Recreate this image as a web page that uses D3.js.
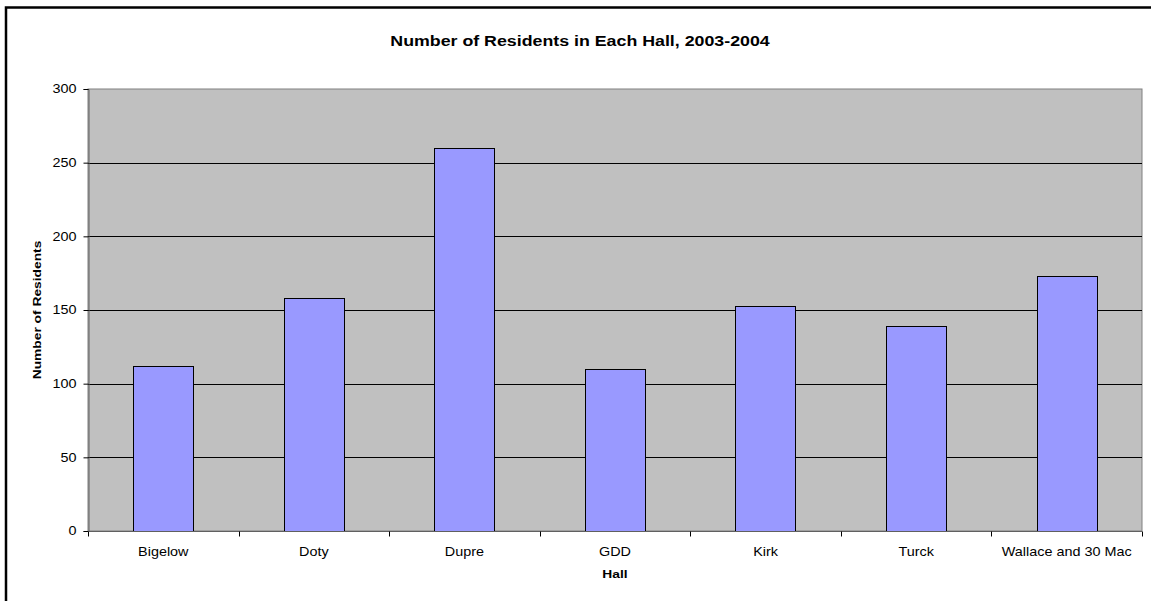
<!DOCTYPE html>
<html>
<head>
<meta charset="utf-8">
<script src="https://cdn.jsdelivr.net/npm/d3@7"></script>
<style>
  body { margin: 0; background: #fff; }
  svg { display: block; font-family: "Liberation Sans", Arial, sans-serif; }
</style>
</head>
<body>
<div id="container"></div>
<script>
// data
const halls = ["Bigelow", "Doty", "Dupre", "GDD", "Kirk", "Turck", "Wallace and 30 Mac"]
const residents = [112, 158, 260, 110, 153, 139, 173]
const yTicks = [0, 50, 100, 150, 200, 250, 300]

const width = 1151
const height = 601
const margin = { top: 89, right: 9, bottom: 70, left: 88 }
// the reference text is drawn wider than plain Arial
const stretch = 1.2

const svg = d3.select("#container")
    .append("svg")
    .attr("width", width)
    .attr("height", height)

// outer chart border (cropped at right and bottom)
svg.append("rect")
    .attr("x", 6)
    .attr("y", 7.5)
    .attr("width", width + 10)
    .attr("height", height + 10)
    .attr("fill", "none")
    .attr("stroke", "#000")
    .attr("stroke-width", 2.5)

const x = d3.scaleBand()
    .domain(halls)
    .range([margin.left, width - margin.right])
    .paddingInner(0.6)
    .paddingOuter(0.3)

const xBand = d3.scaleBand()
    .domain(halls)
    .range([margin.left, width - margin.right])

const y = d3.scaleLinear()
    .domain([0, 300])
    .range([height - margin.bottom, margin.top])

const plotW = width - margin.right - margin.left
const plotH = height - margin.bottom - margin.top

// plot area
svg.append("rect")
    .attr("x", margin.left)
    .attr("y", margin.top)
    .attr("width", plotW)
    .attr("height", plotH)
    .attr("fill", "#c0c0c0")
    .attr("stroke", "#808080")
    .attr("stroke-width", 1)

// gridlines
svg.append("g")
    .selectAll("line")
    .data(yTicks.filter((d) => d > 0 && d < 300))
    .join("line")
    .attr("x1", margin.left)
    .attr("x2", width - margin.right)
    .attr("y1", (d) => Math.round(y(d)) + 0.5)
    .attr("y2", (d) => Math.round(y(d)) + 0.5)
    .attr("stroke", "#000")
    .attr("stroke-width", 1)

// bars
svg.append("g")
    .selectAll("rect")
    .data(residents)
    .join("rect")
    .attr("x", (d, i) => Math.round(x(halls[i])) + 0.5)
    .attr("y", (d) => Math.round(y(d)) + 0.5)
    .attr("width", Math.round(x.bandwidth()))
    .attr("height", (d) => Math.round(y(0)) - Math.round(y(d)))
    .attr("fill", "#9999ff")
    .attr("stroke", "#000")
    .attr("stroke-width", 1)

// y axis
const yAxis = svg.append("g")
    .attr("transform", `translate(${margin.left + 0.5},0)`)
    .call(d3.axisLeft(y).tickValues(yTicks).tickSize(5).tickPadding(5))
yAxis.select(".domain").attr("stroke", "#606060")
yAxis.selectAll(".tick line").attr("stroke", "#000")
yAxis.selectAll("text")
    .attr("font-size", 12)
    .attr("fill", "#000")
    .attr("transform", `scale(${stretch},1)`)

// x axis, ticks sit on band boundaries
const xAxisG = svg.append("g")
    .attr("transform", `translate(0,${Math.round(y(0)) + 0.5})`)
xAxisG.append("line")
    .attr("x1", margin.left)
    .attr("x2", width - margin.right)
    .attr("stroke", "#606060")
const bounds = halls.map((h) => xBand(h)).concat([width - margin.right])
xAxisG.selectAll(".tk")
    .data(bounds)
    .join("line")
    .attr("class", "tk")
    .attr("x1", (d) => Math.round(d) + 0.5)
    .attr("x2", (d) => Math.round(d) + 0.5)
    .attr("y1", 0)
    .attr("y2", 5)
    .attr("stroke", "#000")
xAxisG.selectAll("text")
    .data(halls)
    .join("text")
    .attr("transform", (d) => `translate(${xBand(d) + xBand.bandwidth() / 2},24) scale(${stretch},1)`)
    .attr("text-anchor", "middle")
    .attr("font-size", 12)
    .text((d) => d)

// titles
svg.append("text")
    .attr("transform", `translate(580,46) scale(1.27,1)`)
    .attr("text-anchor", "middle")
    .attr("font-size", 14)
    .attr("font-weight", "bold")
    .text("Number of Residents in Each Hall, 2003-2004")

svg.append("text")
    .attr("transform", `translate(${(margin.left + width - margin.right) / 2},578) scale(${stretch},1)`)
    .attr("text-anchor", "middle")
    .attr("font-size", 11.5)
    .attr("font-weight", "bold")
    .text("Hall")

svg.append("text")
    .attr("transform", `translate(41,${(margin.top + height - margin.bottom) / 2}) rotate(-90) scale(${stretch},1)`)
    .attr("text-anchor", "middle")
    .attr("font-size", 11.5)
    .attr("font-weight", "bold")
    .text("Number of Residents")
</script>
</body>
</html>
